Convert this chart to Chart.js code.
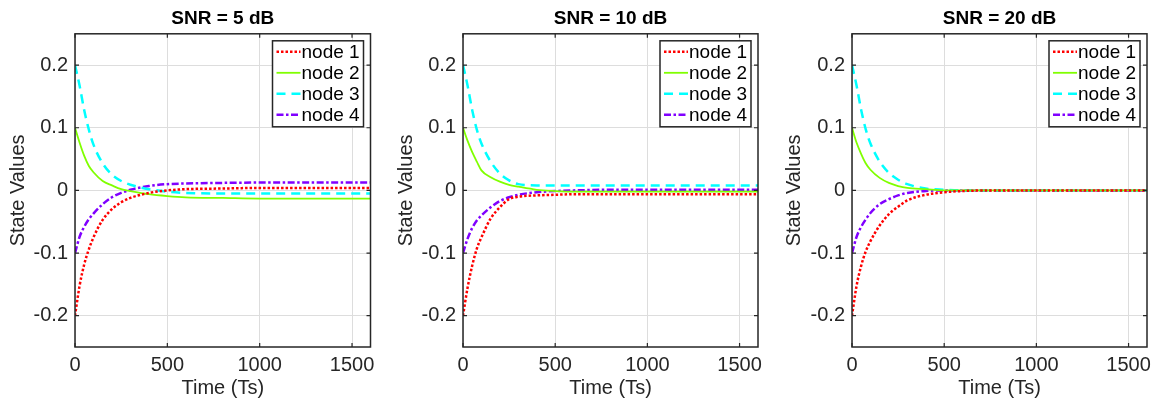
<!DOCTYPE html>
<html>
<head>
<meta charset="utf-8">
<script src="https://cdn.jsdelivr.net/npm/chart.js@4.4.0/dist/chart.umd.min.js"></script>
<style>
  body { margin: 0; background: #fff; width: 1162px; height: 401px; position: relative; overflow: hidden; }
  canvas { position: absolute; top: 0; }
</style>
</head>
<body>
<canvas id="c0" width="388" height="401" style="left:0px"></canvas>
<canvas id="c1" width="388" height="401" style="left:388px"></canvas>
<canvas id="c2" width="386" height="401" style="left:776px"></canvas>
<script>
// time axis shared by all panels
const timeSteps = [0, 25, 50, 75, 100, 150, 200, 250, 300, 400, 500, 600, 800, 1000, 1200, 1400, 1600];
const xTicks = [0, 500, 1000, 1500];
const yTicks = [-0.2, -0.1, 0, 0.1, 0.2];
const nodeLabels = ['node 1', 'node 2', 'node 3', 'node 4'];
const panelTitles = ['SNR = 5 dB', 'SNR = 10 dB', 'SNR = 20 dB'];

// SNR = 5 dB
const snr5Node1 = [-0.2, -0.152, -0.118, -0.094, -0.075, -0.047, -0.03, -0.019, -0.012, -0.004, 0, 0.002, 0.003, 0.004, 0.004, 0.004, 0.004];
const snr5Node2 = [0.1, 0.076, 0.055, 0.039, 0.029, 0.015, 0.008, 0.002, -0.001, -0.006, -0.009, -0.011, -0.012, -0.013, -0.013, -0.013, -0.013];
const snr5Node3 = [0.2, 0.167, 0.128, 0.097, 0.073, 0.043, 0.025, 0.015, 0.009, 0.002, -0.002, -0.004, -0.005, -0.005, -0.005, -0.005, -0.005];
const snr5Node4 = [-0.1, -0.074, -0.058, -0.046, -0.037, -0.022, -0.011, -0.004, 0.001, 0.007, 0.01, 0.011, 0.012, 0.0125, 0.0125, 0.0125, 0.0125];

// SNR = 10 dB
const snr10Node1 = [-0.2, -0.155, -0.12, -0.093, -0.075, -0.045, -0.027, -0.014, -0.01, -0.008, -0.007, -0.006, -0.006, -0.006, -0.006, -0.006, -0.006];
const snr10Node2 = [0.1, 0.079, 0.061, 0.046, 0.032, 0.021, 0.014, 0.009, 0.006, 0.001, -0.001, -0.002, -0.002, -0.002, -0.002, -0.002, -0.002];
const snr10Node3 = [0.2, 0.167, 0.128, 0.097, 0.075, 0.046, 0.027, 0.016, 0.01, 0.008, 0.008, 0.008, 0.008, 0.008, 0.008, 0.008, 0.008];
const snr10Node4 = [-0.1, -0.077, -0.06, -0.048, -0.04, -0.027, -0.017, -0.011, -0.007, -0.003, -0.001, 0, 0.001, 0.001, 0.001, 0.001, 0.001];

// SNR = 20 dB
const snr20Node1 = [-0.2, -0.152, -0.12, -0.097, -0.081, -0.056, -0.038, -0.026, -0.016, -0.007, -0.003, -0.001, 0, 0, 0, 0, 0];
const snr20Node2 = [0.1, 0.076, 0.058, 0.043, 0.033, 0.02, 0.012, 0.007, 0.004, 0.002, 0, 0, 0, 0, 0, 0, 0];
const snr20Node3 = [0.2, 0.167, 0.128, 0.097, 0.075, 0.046, 0.028, 0.017, 0.01, 0.003, 0.001, 0, 0, 0, 0, 0, 0];
const snr20Node4 = [-0.1, -0.074, -0.058, -0.046, -0.036, -0.022, -0.014, -0.008, -0.004, -0.001, 0, 0, 0, 0, 0, 0, 0];

const panels = [
  [snr5Node1, snr5Node2, snr5Node3, snr5Node4],
  [snr10Node1, snr10Node2, snr10Node3, snr10Node4],
  [snr20Node1, snr20Node2, snr20Node3, snr20Node4]
];

// line styles
const nodeColors = ['#ff0000', '#80ff00', '#00ffff', '#8000ff'];
const nodeDashes = [[2.5, 2], [], [9, 6], [7, 2.5, 2.5, 2.5]];
const nodeWidths = [2.5, 1.8, 2.5, 2.5];

const FONT = '"Liberation Sans", Arial, Helvetica, sans-serif';
const axisW = [75, 75, 76];
const rightPad = [17.5, 18, 15];

// box round the axes, inward tick marks and the legend in the corner
const framePlugin = {
  id: 'frame',
  afterDatasetsDraw(chart) {
    const ctx = chart.ctx;
    const a = chart.chartArea;
    const xs = chart.scales.x;
    const ys = chart.scales.y;
    ctx.save();
    ctx.strokeStyle = '#262626';
    ctx.lineWidth = 1.5;
    ctx.strokeRect(a.left, a.top, a.right - a.left, a.bottom - a.top);
    ctx.lineWidth = 1.2;
    ctx.beginPath();
    yTicks.forEach(v => {
      const y = ys.getPixelForValue(v);
      ctx.moveTo(a.left, y); ctx.lineTo(a.left + 4, y);
      ctx.moveTo(a.right, y); ctx.lineTo(a.right - 4, y);
    });
    xTicks.forEach(v => {
      const x = xs.getPixelForValue(v);
      ctx.moveTo(x, a.bottom); ctx.lineTo(x, a.bottom - 4);
      ctx.moveTo(x, a.top); ctx.lineTo(x, a.top + 4);
    });
    ctx.stroke();

    // legend
    const bw = 91, bh = 86;
    const bx = a.right - 7 - bw;
    const by = a.top + 7;
    ctx.fillStyle = '#fff';
    ctx.fillRect(bx, by, bw, bh);
    ctx.strokeStyle = '#262626';
    ctx.lineWidth = 1.5;
    ctx.strokeRect(bx, by, bw, bh);
    ctx.font = '19px ' + FONT;
    ctx.textBaseline = 'middle';
    ctx.textAlign = 'left';
    chart.data.datasets.forEach((ds, i) => {
      const ry = by + 11 + 21 * i;
      ctx.strokeStyle = ds.borderColor;
      ctx.lineWidth = ds.borderWidth;
      ctx.setLineDash(ds.borderDash);
      ctx.beginPath();
      ctx.moveTo(bx + 4, ry);
      ctx.lineTo(bx + 28, ry);
      ctx.stroke();
      ctx.setLineDash([]);
      ctx.fillStyle = '#000';
      ctx.fillText(ds.label, bx + 29, ry + 1);
    });
    ctx.restore();
  }
};

function makePanel(idx) {
  const series = panels[idx];
  new Chart(document.getElementById('c' + idx), {
    type: 'line',
    data: {
      datasets: series.map((vals, i) => ({
        label: nodeLabels[i],
        data: timeSteps.map((t, k) => ({ x: t, y: vals[k] })),
        borderColor: nodeColors[i],
        borderWidth: nodeWidths[i],
        borderDash: nodeDashes[i],
        borderCapStyle: 'butt',
        pointRadius: 0,
        fill: false,
        cubicInterpolationMode: 'monotone'
      }))
    },
    options: {
      responsive: false,
      animation: false,
      devicePixelRatio: 1,
      layout: { padding: { left: 0, right: rightPad[idx], top: 0, bottom: 0 } },
      plugins: {
        legend: { display: false },
        tooltip: { enabled: false },
        title: {
          display: true,
          fullSize: false,
          text: panelTitles[idx],
          color: '#000',
          font: { family: FONT, size: 19, weight: 'bold' },
          padding: { top: 7, bottom: 4 }
        }
      },
      scales: {
        x: {
          type: 'linear',
          min: 0,
          max: 1600,
          afterBuildTicks: s => { s.ticks = xTicks.map(v => ({ value: v })); },
          afterFit: s => { s.height = 54; },
          grid: { color: '#dddddd', drawTicks: false },
          border: { display: false },
          ticks: { color: '#262626', font: { family: FONT, size: 20 }, padding: 6, maxRotation: 0, autoSkip: false, callback: v => String(v) },
          title: { display: true, text: 'Time (Ts)', color: '#262626', font: { family: FONT, size: 20 }, padding: { top: 0, bottom: 1 } }
        },
        y: {
          min: -0.25,
          max: 0.25,
          afterBuildTicks: s => { s.ticks = yTicks.map(v => ({ value: v })); },
          afterFit: s => { s.width = axisW[idx]; },
          grid: { color: '#dddddd', drawTicks: false },
          border: { display: false },
          ticks: { color: '#262626', font: { family: FONT, size: 20 }, padding: 7, autoSkip: false, callback: v => String(Math.round(v * 10) / 10) },
          title: { display: true, text: 'State Values', color: '#262626', font: { family: FONT, size: 20 }, padding: { top: 6, bottom: 0 } }
        }
      }
    },
    plugins: [framePlugin]
  });
}

makePanel(0);
makePanel(1);
makePanel(2);
</script>
</body>
</html>
